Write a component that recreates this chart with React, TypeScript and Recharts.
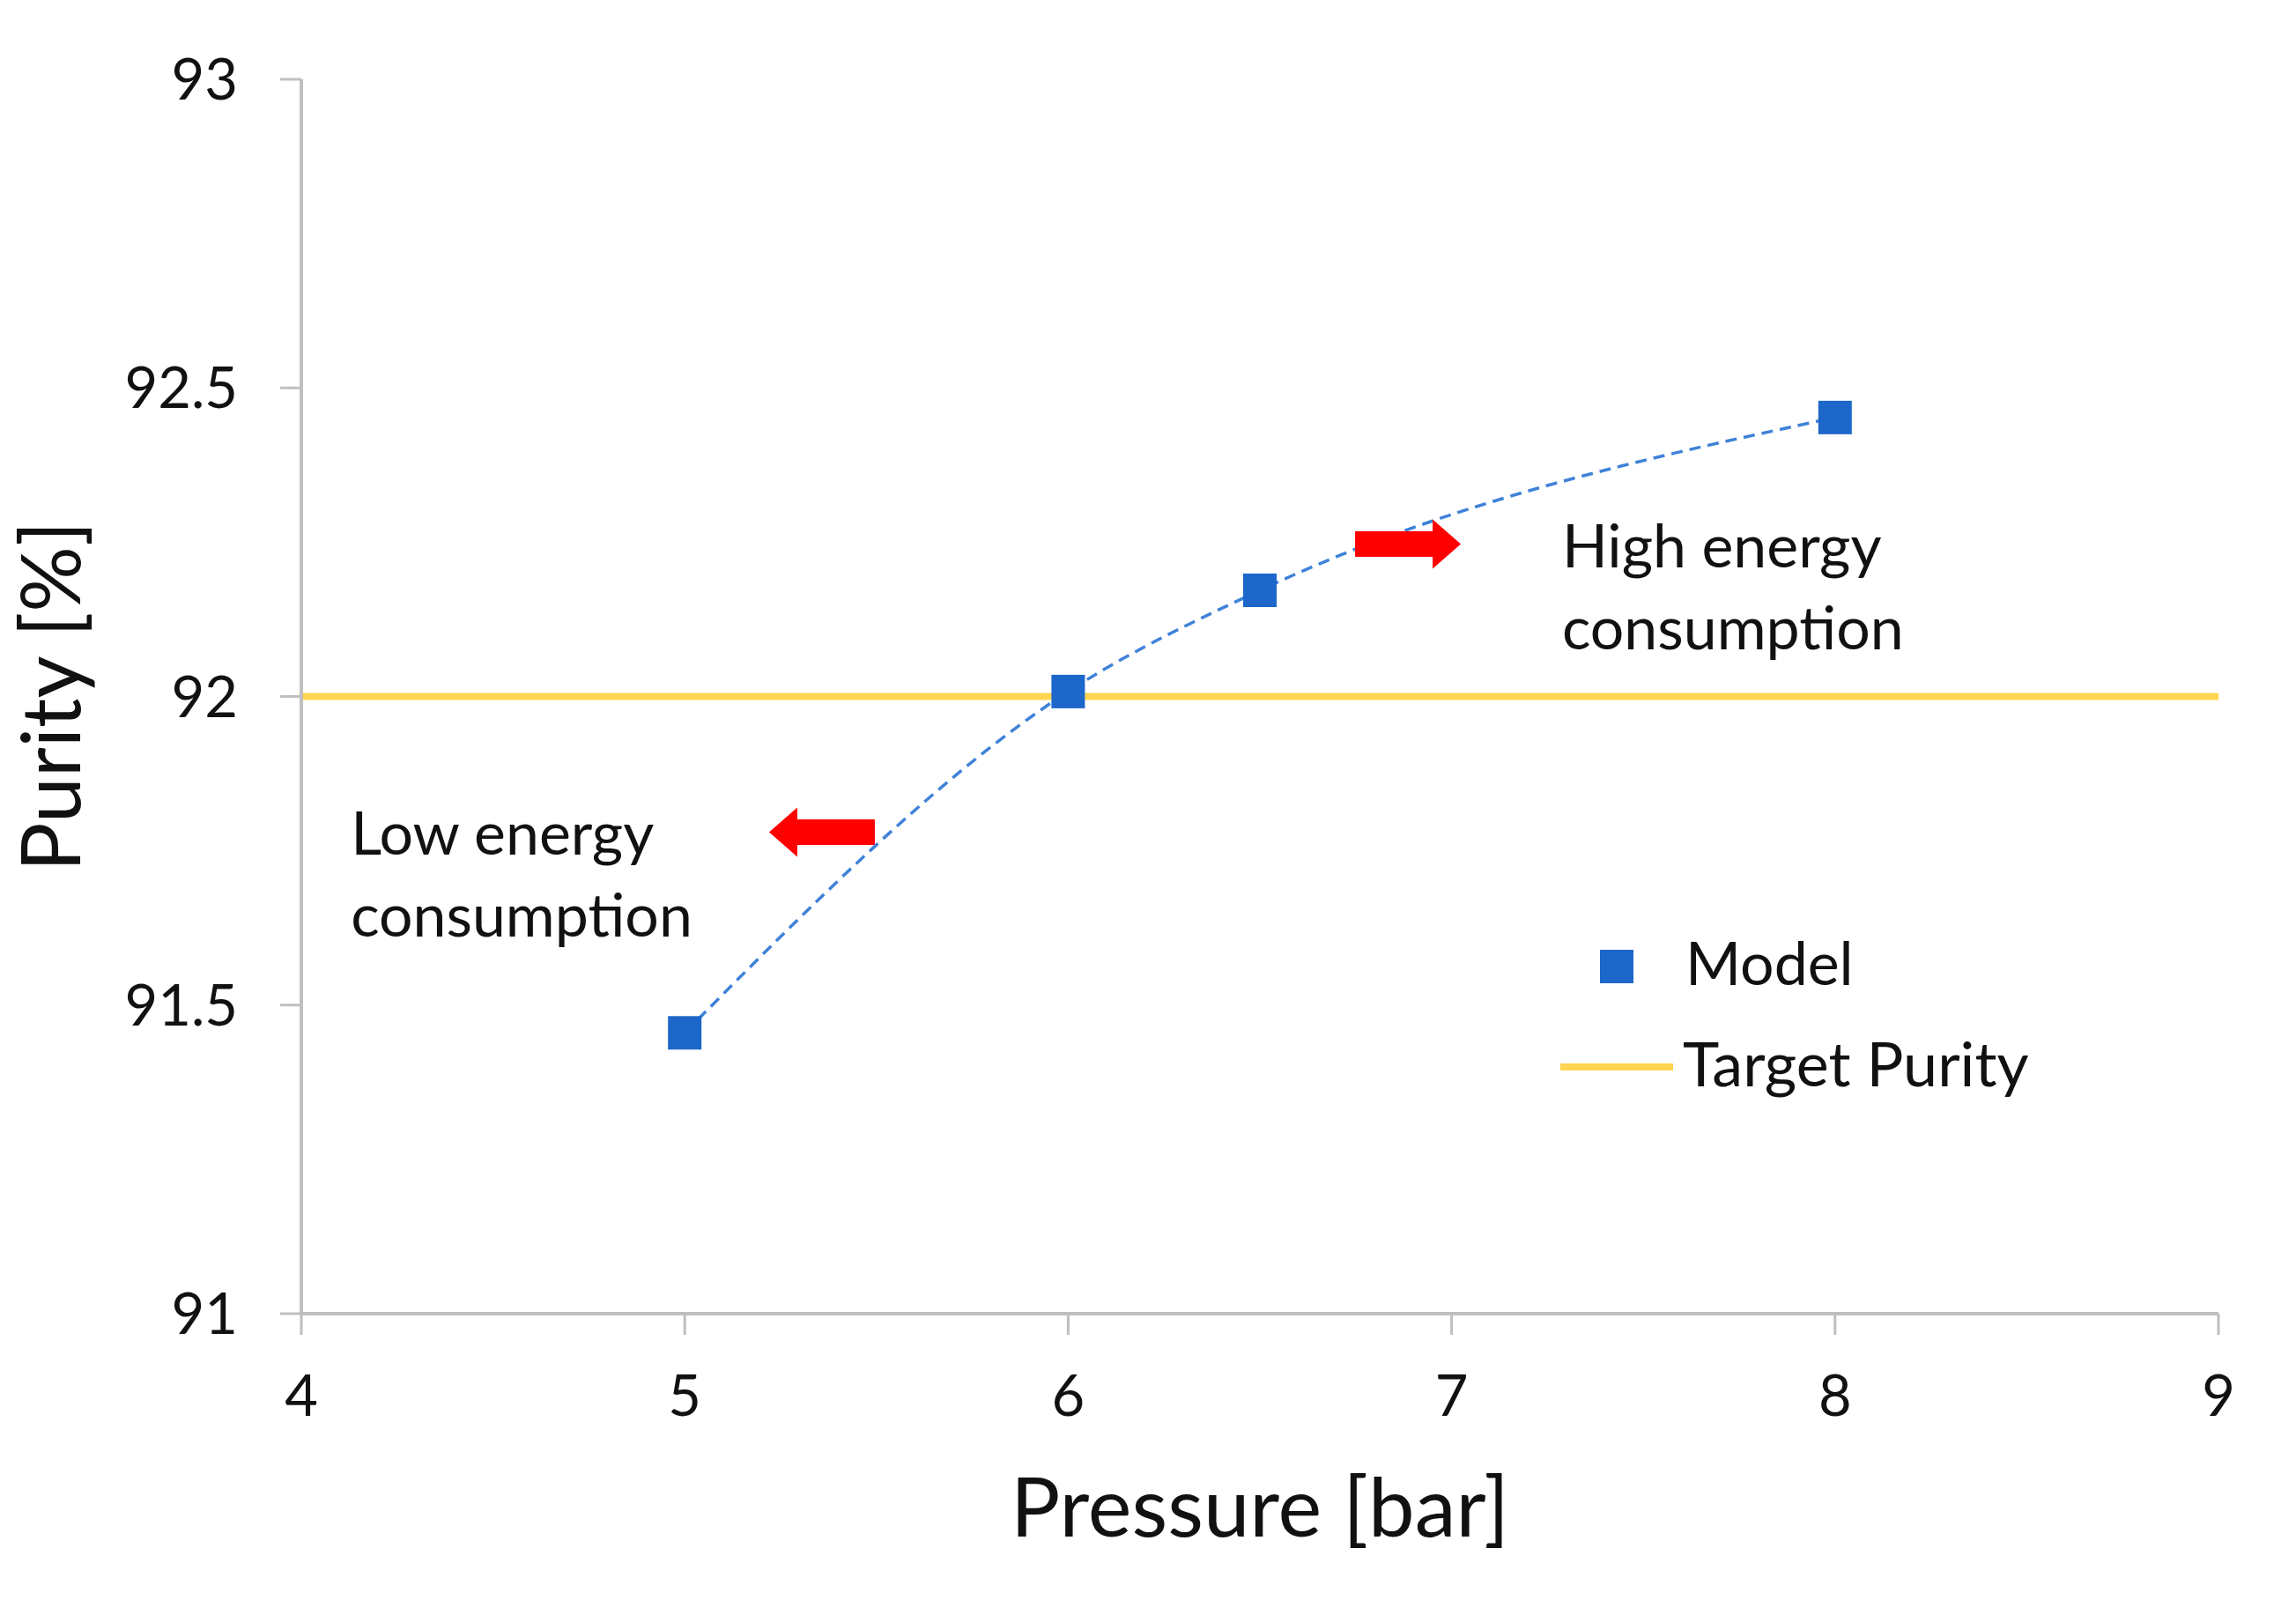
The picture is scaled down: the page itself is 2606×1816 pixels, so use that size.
import React from 'react'
import {
  ComposedChart, Line, Scatter, XAxis, YAxis, ReferenceDot, Legend,
} from 'recharts'

// model results
const pressure = [5, 6, 6.5, 8]
const purity = [91.455, 92.008, 92.172, 92.452]

// target purity line spans the whole x range
const targetPressure = [4, 9]
const targetPurity = [92, 92]

const xTicks = [4, 5, 6, 7, 8, 9]
const yTicks = [91, 91.5, 92, 92.5, 93]

// annotations (data coordinates)
const arrowX = [5.22, 7.024]
const arrowY = [91.78, 92.247]
const arrowDir = ['left', 'right']
const noteX = [4.129, 7.288]
const noteY = [91.744, 92.2086]
const noteLines = [
  ['Low energy', 'consumption'],
  ['High energy', 'consumption'],
]

const modelData = pressure.map((p, i) => ({ pressure: p, purity: purity[i] }))
const targetData = targetPressure.map((p, i) => ({ pressure: p, purity: targetPurity[i] }))

const FONT = 'Lato, "Open Sans", sans-serif'
const BLUE = '#1C67C9'
const TREND = '#3F82D8'
const GOLD = '#FFD54F'
const AXIS = '#BFBFBF'
const TEXT = '#111'

const SquareMarker = (props: any) => {
  const { cx, cy } = props
  if (cx == null || cy == null) return null
  return <rect x={cx - 19} y={cy - 19} width={38} height={38} fill={BLUE} />
}

const arrowShape = (dir: string) => (props: any) => {
  const { cx, cy } = props
  const s = dir === 'left' ? 1 : -1
  const pts = [
    [0, 0], [32, -28], [32, -14.5], [120, -14.5], [120, 14.5], [32, 14.5], [32, 28],
  ].map(([dx, dy]) => `${cx + s * dx},${cy + dy}`).join(' ')
  return <polygon points={pts} fill="#FF0000" />
}

const noteShape = (lines: string[]) => (props: any) => {
  const { cx, cy } = props
  return (
    <text x={cx} y={cy} fontFamily={FONT} fontSize={68} fill={TEXT}>
      {lines.map((l, i) => (
        <tspan key={i} x={cx} dy={i === 0 ? 0 : 93}>{l}</tspan>
      ))}
    </text>
  )
}

const YTitle = (props: any) => {
  const { x, y, height } = props.viewBox
  const tx = x + 91
  const ty = y + height / 2
  return (
    <text x={tx} y={ty} transform={`rotate(-90, ${tx}, ${ty})`} textAnchor="middle"
      fontFamily={FONT} fontSize={93} fill={TEXT}>
      Purity [%]
    </text>
  )
}

const XTitle = (props: any) => {
  const { x, y, width } = props.viewBox
  return (
    <text x={x + width / 2} y={y + 253} textAnchor="middle"
      fontFamily={FONT} fontSize={94} fill={TEXT}>
      Pressure [bar]
    </text>
  )
}

const LegendBox = () => (
  <svg width={640} height={230} style={{ display: 'block' }}>
    <rect x={56} y={38} width={38} height={38} fill={BLUE} />
    <text x={153} y={78} fontFamily={FONT} fontSize={68} fill={TEXT}>Model</text>
    <line x1={11} x2={139} y1={171} y2={171} stroke={GOLD} strokeWidth={8} />
    <text x={150} y={193} fontFamily={FONT} fontSize={70} fill={TEXT}>Target Purity</text>
  </svg>
)

export default function App() {
  return (
    <div style={{ position: 'absolute', left: 0, top: 0, width: 2606, height: 1816, background: '#fff' }}>
      <ComposedChart
        width={2606}
        height={1816}
        margin={{ top: 90, right: 88, left: 0, bottom: 0 }}
      >
        <XAxis
          type="number"
          dataKey="pressure"
          domain={[4, 9]}
          ticks={xTicks}
          allowDataOverflow
          height={325}
          axisLine={{ stroke: AXIS, strokeWidth: 4 }}
          tickLine={{ stroke: AXIS, strokeWidth: 3 }}
          tickSize={24}
          tickMargin={46}
          tick={{ fontSize: 65, fontFamily: FONT, fill: TEXT }}
          label={(p: any) => <XTitle {...p} />}
        />
        <YAxis
          type="number"
          dataKey="purity"
          domain={[91, 93]}
          ticks={yTicks}
          allowDataOverflow
          width={342}
          axisLine={{ stroke: AXIS, strokeWidth: 4 }}
          tickLine={{ stroke: AXIS, strokeWidth: 3 }}
          tickSize={24}
          tickMargin={48}
          tick={{ fontSize: 65, fontFamily: FONT, fill: TEXT }}
          label={(p: any) => <YTitle {...p} />}
        />

        {/* target purity */}
        <Line
          data={targetData}
          dataKey="purity"
          name="Target Purity"
          stroke={GOLD}
          strokeWidth={8}
          dot={false}
          activeDot={false}
          isAnimationActive={false}
          legendType="line"
        />

        {/* smooth trend through the model points */}
        <Line
          data={modelData}
          dataKey="purity"
          type="monotoneX"
          stroke={TREND}
          strokeWidth={3.5}
          strokeDasharray="13 8"
          dot={false}
          activeDot={false}
          isAnimationActive={false}
          legendType="none"
        />

        <Scatter
          data={modelData}
          dataKey="purity"
          name="Model"
          shape={SquareMarker}
          isAnimationActive={false}
        />

        {arrowX.map((ax, i) => (
          <ReferenceDot key={`a${i}`} x={ax} y={arrowY[i]} r={1} shape={arrowShape(arrowDir[i])} />
        ))}
        {noteX.map((nx, i) => (
          <ReferenceDot key={`n${i}`} x={nx} y={noteY[i]} r={1} shape={noteShape(noteLines[i])} />
        ))}

        <Legend
          layout="vertical"
          align="center"
          verticalAlign="middle"
          content={() => <LegendBox />}
          wrapperStyle={{ left: 1760, top: 1040, width: 640, height: 230 }}
        />
      </ComposedChart>
    </div>
  )
}
